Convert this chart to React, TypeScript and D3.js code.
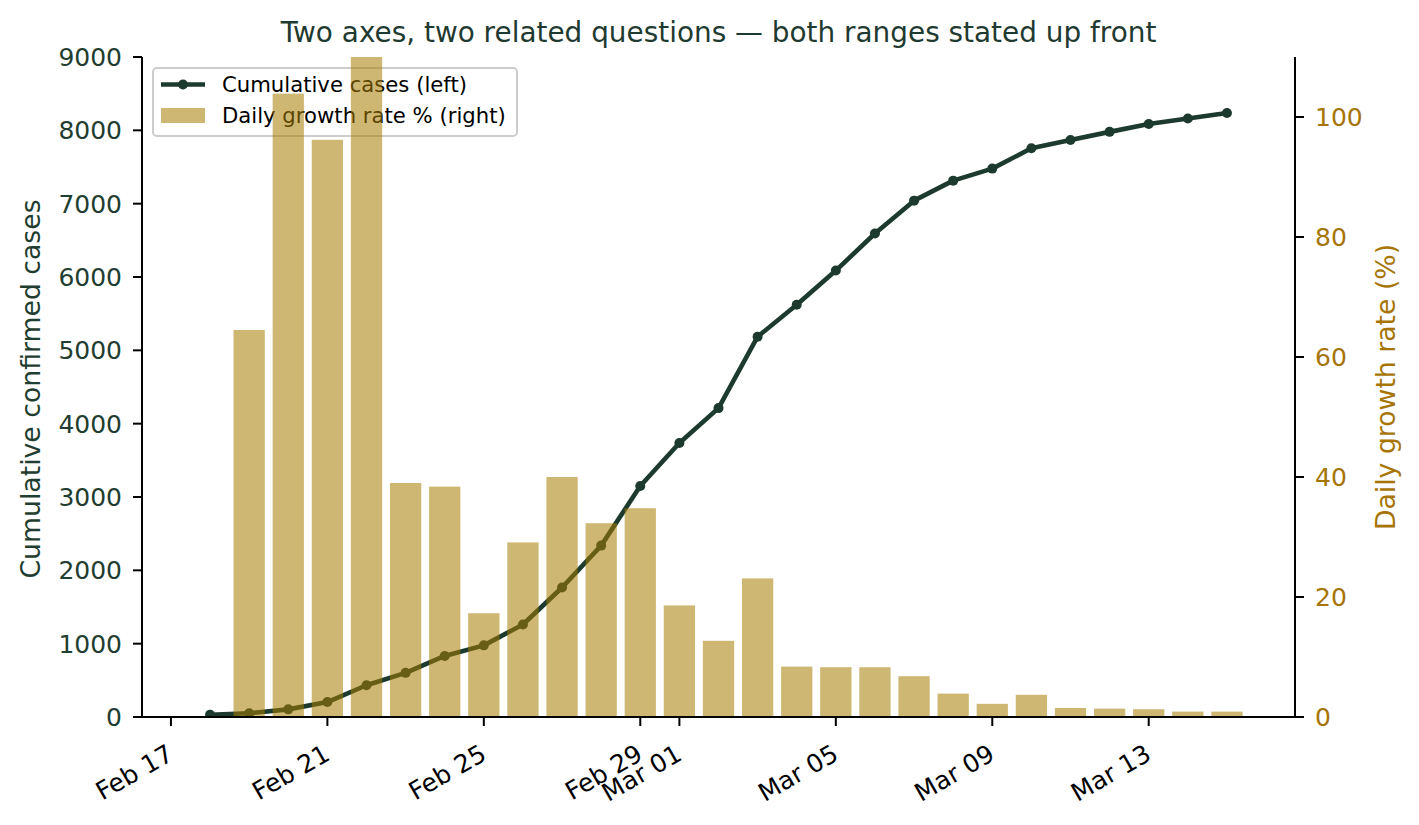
import React from "react";
import * as d3 from "d3";

const dates: string[] = [
  "2020-02-18","2020-02-19","2020-02-20","2020-02-21","2020-02-22","2020-02-23","2020-02-24",
  "2020-02-25","2020-02-26","2020-02-27","2020-02-28","2020-02-29","2020-03-01","2020-03-02",
  "2020-03-03","2020-03-04","2020-03-05","2020-03-06","2020-03-07","2020-03-08","2020-03-09",
  "2020-03-10","2020-03-11","2020-03-12","2020-03-13","2020-03-14","2020-03-15",
];
const cumulativeCases: number[] = [
  31, 51, 104, 204, 433, 602, 833, 977, 1261, 1766, 2337, 3150, 3736, 4212,
  5186, 5621, 6088, 6593, 7041, 7314, 7478, 7755, 7869, 7979, 8086, 8162, 8236,
];
// growth rate for each date from Feb 19 onward
const growthDates: string[] = dates.slice(1);
const growthRate: number[] = [
  64.5, 103.9, 96.2, 112.3, 39.0, 38.4, 17.3, 29.1, 40.0, 32.3, 34.8, 18.6, 12.7,
  23.1, 8.4, 8.3, 8.3, 6.8, 3.9, 2.2, 3.7, 1.5, 1.4, 1.3, 0.9, 0.9,
];
const xTickDates: string[] = [
  "2020-02-17","2020-02-21","2020-02-25","2020-02-29","2020-03-01","2020-03-05","2020-03-09","2020-03-13",
];
const leftTicks: number[] = [0, 1000, 2000, 3000, 4000, 5000, 6000, 7000, 8000, 9000];
const rightTicks: number[] = [0, 20, 40, 60, 80, 100];

const W = 1419, H = 825;
const L = 142, R = 1295, T = 57, B = 717;
const DAY = 86400000;
const FONT = "DejaVu Sans, sans-serif";
const LINE_COLOR = "#1c3a2d";
const BAR_COLOR = "#a67c00";
const GOLD = "#a67505";
const LEFT_TEXT = "#1f3d30";
const TICK_FS = 25;
const LW = 4.6;
const MR = 5;

export default function App() {
  const parse = (s: string) => new Date(s + "T00:00:00Z");
  const first = parse(dates[0]).getTime() - 0.4 * DAY;
  const last = parse(dates[dates.length - 1]).getTime() + 0.4 * DAY;
  const pad = (last - first) * 0.05;
  const x = d3.scaleUtc().domain([new Date(first - pad), new Date(last + pad)]).range([L, R]);
  const yL = d3.scaleLinear().domain([0, 9000]).range([B, T]);
  const yR = d3.scaleLinear().domain([0, 110]).range([B, T]);
  const barW = x(new Date(first + 0.8 * DAY)) - x(new Date(first));
  const fmt = d3.utcFormat("%b %d");

  const line = d3
    .line<number>()
    .x((_, i) => x(parse(dates[i])))
    .y((v) => yL(v));

  return (
    <svg width={W} height={H} style={{ position: "absolute", left: 0, top: 0, background: "#fff" }} fontFamily={FONT}>
      <defs>
        <clipPath id="plotclip">
          <rect x={L} y={T} width={R - L} height={B - T} />
        </clipPath>
      </defs>
      <text x={(L + R) / 2} y={42} textAnchor="middle" fontSize={27.9} fill="#1f3a30">
        Two axes, two related questions — both ranges stated up front
      </text>

      {/* cumulative line */}
      <g clipPath="url(#plotclip)">
        <path d={line(cumulativeCases) || ""} fill="none" stroke={LINE_COLOR} strokeWidth={LW} strokeLinejoin="round" />
        {cumulativeCases.map((v, i) => (
          <circle key={i} cx={x(parse(dates[i]))} cy={yL(v)} r={MR} fill={LINE_COLOR} />
        ))}
      </g>

      {/* legend */}
      <g>
        <rect x={153} y={68} width={364} height={68} rx={4} fill="#fff" fillOpacity={0.8} stroke="#cccccc" strokeWidth={2} />
        <line x1={161} x2={205} y1={84.5} y2={84.5} stroke={LINE_COLOR} strokeWidth={LW} />
        <circle cx={183} cy={84.5} r={MR} fill={LINE_COLOR} />
        <text x={222} y={92} fontSize={21.2} fill="#000">Cumulative cases (left)</text>
        <rect x={161} y={108} width={44} height={15} fill={BAR_COLOR} fillOpacity={0.55} />
        <text x={222} y={123} fontSize={21.2} fill="#000">Daily growth rate % (right)</text>
      </g>

      {/* bars */}
      <g clipPath="url(#plotclip)">
        {growthRate.map((v, i) => {
          const cx = x(parse(growthDates[i]));
          return (
            <rect key={i} x={cx - barW / 2} y={yR(v)} width={barW} height={yR(0) - yR(v)} fill={BAR_COLOR} fillOpacity={0.55} />
          );
        })}
      </g>

      {/* spines */}
      <line x1={L} x2={L} y1={T} y2={B} stroke="#000" strokeWidth={2} />
      <line x1={R} x2={R} y1={T} y2={B} stroke="#000" strokeWidth={2} />
      <line x1={L - 1} x2={R + 1} y1={B} y2={B} stroke="#000" strokeWidth={2} />

      {/* left ticks */}
      {leftTicks.map((t) => (
        <g key={t}>
          <line x1={L - 9} x2={L} y1={yL(t)} y2={yL(t)} stroke="#000" strokeWidth={2} />
          <text x={L - 20} y={yL(t)} dy="0.36em" textAnchor="end" fontSize={TICK_FS} fill={LEFT_TEXT}>{t}</text>
        </g>
      ))}
      {/* right ticks */}
      {rightTicks.map((t) => (
        <g key={t}>
          <line x1={R} x2={R + 9} y1={yR(t)} y2={yR(t)} stroke="#000" strokeWidth={2} />
          <text x={R + 20} y={yR(t)} dy="0.36em" textAnchor="start" fontSize={TICK_FS} fill={GOLD}>{t}</text>
        </g>
      ))}
      {/* x ticks */}
      {xTickDates.map((s) => {
        const px = x(parse(s));
        return (
          <g key={s}>
            <line x1={px} x2={px} y1={B} y2={B + 9} stroke="#000" strokeWidth={2} />
            <text transform={`translate(${px - 5},${B + 26}) rotate(-30)`} textAnchor="end" dy="0.73em" fontSize={TICK_FS} fill="#000">
              {fmt(parse(s))}
            </text>
          </g>
        );
      })}

      {/* axis labels */}
      <text transform={`translate(40,${(T + B) / 2 + 2}) rotate(-90)`} textAnchor="middle" fontSize={26.7} fill={LEFT_TEXT}>
        Cumulative confirmed cases
      </text>
      <text transform={`translate(1395,${(T + B) / 2}) rotate(-90)`} textAnchor="middle" fontSize={26.7} fill={GOLD}>
        Daily growth rate (%)
      </text>
    </svg>
  );
}
